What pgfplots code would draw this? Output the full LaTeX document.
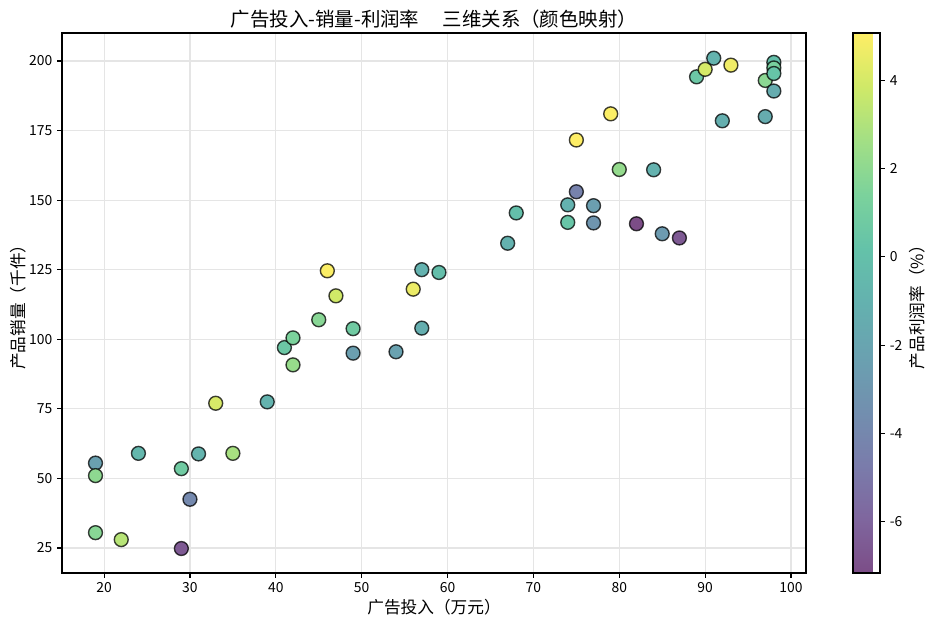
\documentclass[border=0pt]{standalone}
\usepackage{fontspec}
\setmainfont{Noto Sans CJK SC}
\usepackage{pgfplots}
\usepackage{pgfplotstable}
\pgfplotsset{compat=1.18}
\pgfplotsset{colormap={vir7}{
 rgb255(0cm)=(124,77,135) rgb255(1cm)=(127,102,158) rgb255(2cm)=(122,124,171)
 rgb255(3cm)=(114,143,175) rgb255(4cm)=(106,161,176) rgb255(5cm)=(100,177,175)
 rgb255(6cm)=(100,194,169) rgb255(7cm)=(123,210,156) rgb255(8cm)=(162,223,133)
 rgb255(9cm)=(207,233,104) rgb255(10cm)=(254,238,102)}}
\pgfplotstableread{
x y z
19 55.5 -2.3
19 51 2.0
19 30.5 1.8
22 28 3.2
24 59 -0.6
29 53.5 0.8
30 42.5 -3.9
29 24.8 -6.5
31 58.8 -0.8
33 77 4.1
35 59 2.8
39 77.5 -0.9
41 97 0.6
42 100.5 1.4
42 90.8 2.3
45 107 1.8
47 115.6 3.9
46 124.6 5.0
49 103.8 0.8
49 95 -2.4
54 95.5 -2.2
57 104 -1.3
57 125 -1.0
56 118 4.6
59 124 -0.1
67 134.5 -1.0
68 145.4 0.0
74 142 0.4
74 148.3 -1.0
75 153 -4.3
77 148 -2.4
77 141.8 -3.1
82 141.5 -7.16
85 137.9 -2.7
87 136.4 -6.5
75 171.6 5.07
79 181 5.0
80 161 2.2
84 160.9 -1.0
89 194.3 0.6
90 197 4.0
91 201 -0.9
93 198.5 4.7
92 178.5 -1.2
97 180 -1.4
97 193 1.9
98 199.5 0.0
98 197.5 1.2
98 195.5 0.3
98 189.2 -1.4
}\datatable
\begin{document}
\begin{tikzpicture}
\path[use as bounding box] (0,0) rectangle (673.2pt,450.72pt);
\begin{axis}[
  at={(44.64pt,38.16pt)}, anchor=south west,
  scale only axis, width=535.7pt, height=388.8pt,
  xmin=15.1, xmax=101.75, ymin=16, ymax=210.05,
  xtick={20,30,...,100}, ytick={25,50,...,200},
  tick pos=left, tick align=outside, major tick length=3.5pt,
  tick style={line width=0.8pt, black},
  axis line style={line width=0.8pt},
  grid=major, grid style={line width=0.8pt, color=black!10},
  ticklabel style={font=\fontsize{10}{12}\selectfont},
  /pgf/number format/assume math mode=true,
  colormap name=vir7,
  point meta min=-7.16, point meta max=5.07,
  title={广告投入-销量-利润率\hspace{1.2em}三维关系（颜色映射）},
  xlabel={广告投入（万元）},
  ylabel={产品销量（千件）},
  every axis title/.style={at={(axis description cs:0.5,1.0259)}, anchor=center, font=\fontsize{14}{16}\selectfont},
  every axis x label/.style={at={(axis description cs:0.5,-0.063)}, anchor=center, font=\fontsize{12}{14}\selectfont},
  every axis y label/.style={at={(axis description cs:-0.0591,0.5)}, rotate=90, anchor=center, font=\fontsize{12}{14}\selectfont},
  colorbar,
  colorbar style={
    at={(parent axis.north east)}, anchor=north west, xshift=25.3pt,
    width=19.44pt,
    ytick={-6,-4,-2,0,2,4},
    ytick pos=right, yticklabel pos=right, tick align=outside,
    major tick length=3.5pt,
    tick style={line width=0.8pt, black},
    axis line style={line width=0.8pt},
    ticklabel style={font=\fontsize{10}{12}\selectfont},
    /pgf/number format/assume math mode=true,
    ylabel={产品利润率（\%）},
    every axis y label/.style={at={(axis description cs:2.37,0.5)}, rotate=90, anchor=center, font=\fontsize{12}{14}\selectfont},
  },
]
\addplot[scatter, only marks, mark=*, mark size=5pt,
  scatter src=explicit,
  scatter/use mapped color={draw=black, draw opacity=0.75, fill=mapped color, line width=1pt}]
  table[x=x, y=y, meta=z] {\datatable};
\end{axis}
\end{tikzpicture}
\end{document}
